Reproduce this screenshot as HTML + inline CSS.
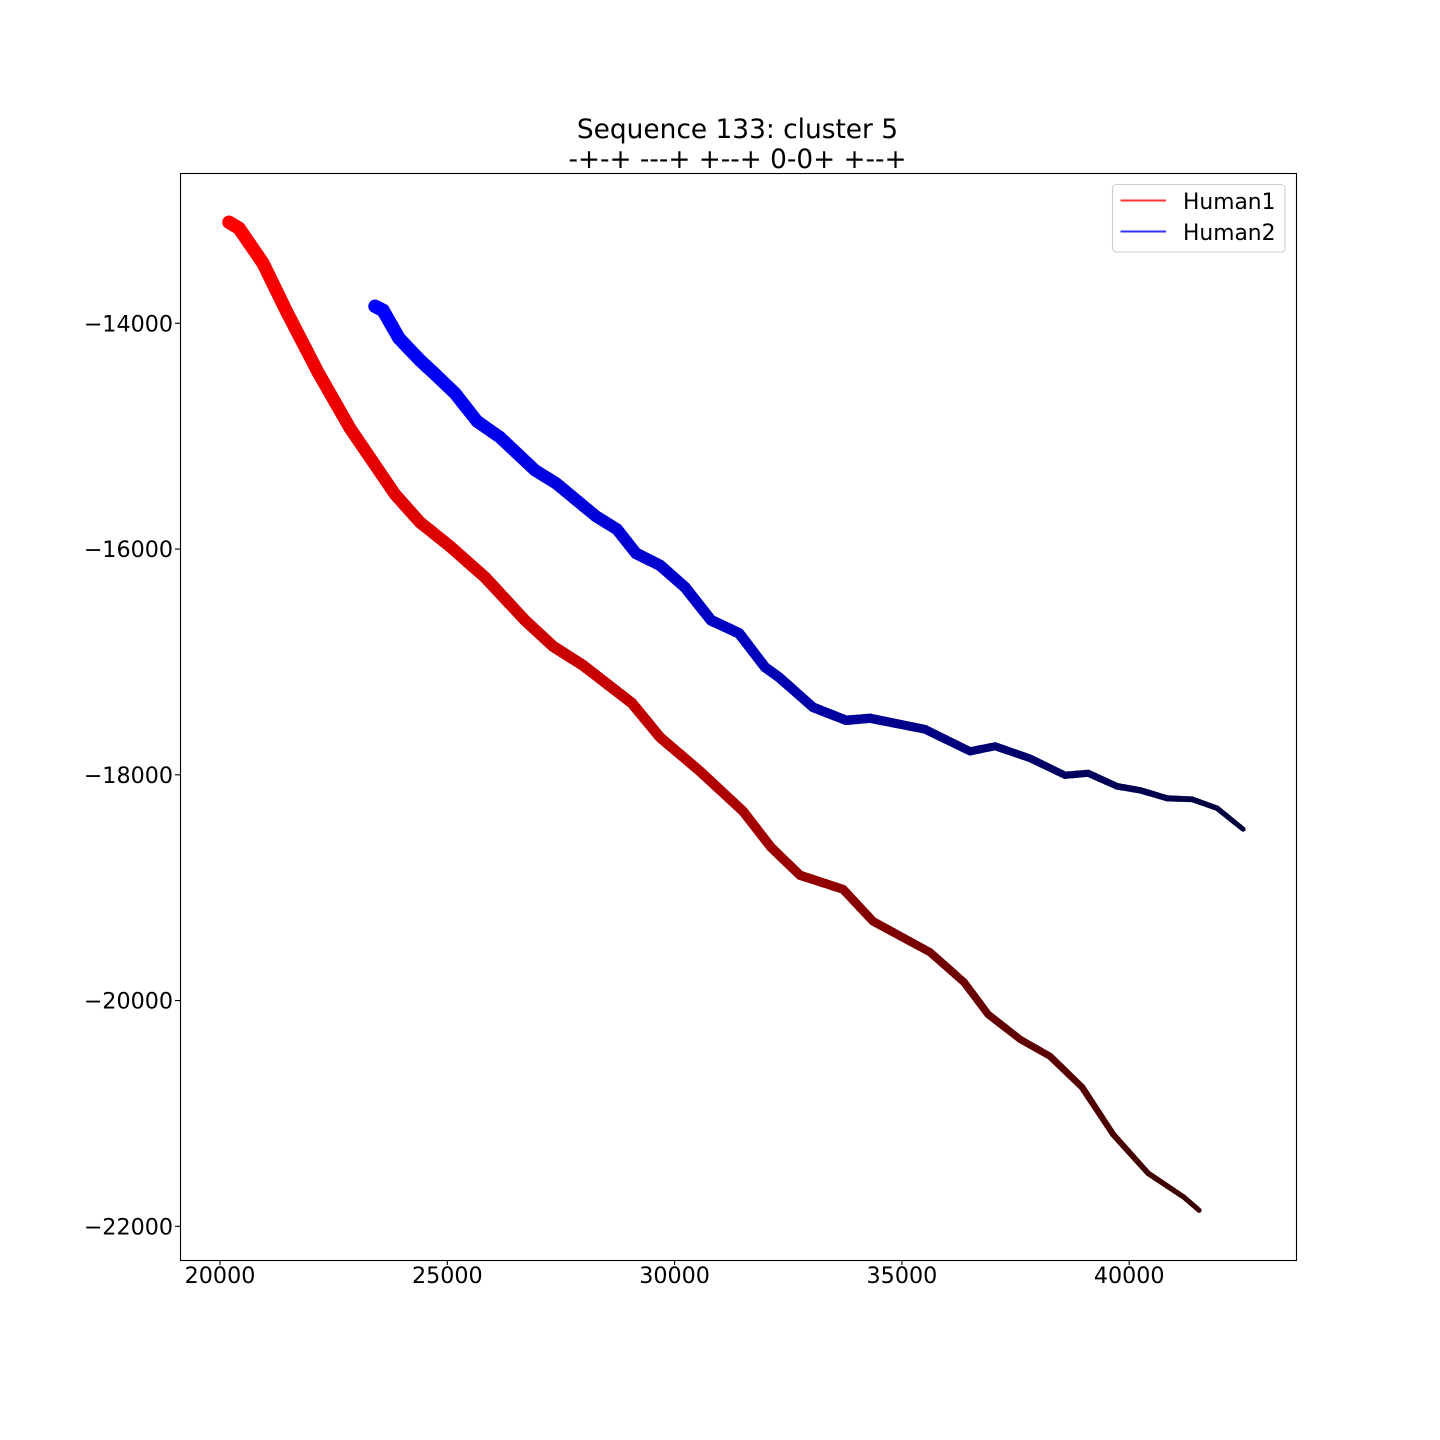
<!DOCTYPE html>
<html lang="en">
<head>
<meta charset="utf-8">
<title>Sequence 133: cluster 5</title>
<style>
html,body{margin:0;padding:0;background:#fff;width:1440px;height:1440px;overflow:hidden}
svg{display:block}
text{font-family:"DejaVu Sans","Liberation Sans",sans-serif;fill:#000}
</style>
</head>
<body>
<svg id="chart" width="1440" height="1440" viewBox="0 0 1440 1440" xmlns="http://www.w3.org/2000/svg">
  <rect x="0" y="0" width="1440" height="1440" fill="#fff"/>
  <text x="737.5" y="138" font-size="26.4" text-anchor="middle">Sequence 133: cluster 5</text>
  <text x="737.5" y="168" font-size="26.3" text-anchor="middle">-+-+ ---+ +--+ 0-0+ +--+</text>
  <g id="marks"></g>
  <g id="axes"></g>
  <rect x="180.5" y="173.5" width="1116" height="1087" fill="none" stroke="#000" stroke-width="1.1"/>
  <g>
    <rect x="1112.5" y="184.5" width="172.5" height="67.5" rx="4" fill="#fff" fill-opacity="0.8" stroke="#ccc" stroke-width="1.1"/>
    <line x1="1120.5" y1="200.5" x2="1166" y2="200.5" stroke="#ff0000" stroke-opacity="0.8" stroke-width="2"/>
    <text x="1183" y="209" font-size="21.8">Human1</text>
    <line x1="1120.5" y1="231.5" x2="1166" y2="231.5" stroke="#0000ff" stroke-opacity="0.8" stroke-width="2"/>
    <text x="1183" y="240" font-size="21.8">Human2</text>
  </g>
</svg>
<script>
const human1X = [20198,20418,20946,21474,22156,22860,23850,24400,25060,25830,26710,27326,27986,29064,29680,30560,31506,32122,32760,33706,34366,35620,36368,36896,37600,38260,38964,39646,40416,41208,41538];
const human1Y = [-13105,-13158,-13468,-13903,-14434,-14930,-15515,-15763,-15976,-16250,-16631,-16861,-17030,-17366,-17668,-17969,-18323,-18642,-18890,-19014,-19298,-19572,-19838,-20122,-20343,-20494,-20768,-21185,-21530,-21743,-21858];
const human2X = [23410,23586,23938,24400,24686,25170,25654,26160,26930,27392,28272,28734,29152,29680,30230,30802,31418,31990,32298,33046,33772,34300,35510,36500,37050,37820,38590,39096,39734,40240,40834,41384,41934,42506];
const human2Y = [-13849,-13885,-14133,-14328,-14434,-14620,-14868,-15010,-15302,-15417,-15710,-15825,-16038,-16144,-16339,-16631,-16746,-17047,-17136,-17402,-17517,-17499,-17597,-17792,-17747,-17854,-18004,-17986,-18102,-18137,-18208,-18217,-18296,-18482];
const xTicks = [20000,25000,30000,35000,40000];
const yTicks = [-14000,-16000,-18000,-20000,-22000];

const NS = 'http://www.w3.org/2000/svg';
function sx(v){ return 220 + (v - 20000) * 0.04546; }
function sy(v){ return 323.3 + (-14000 - v) * 0.11288; }

const marks = document.getElementById('marks');
const axes = document.getElementById('axes');

function ramp(stops, t){
  for (let i = 1; i < stops.length; i++) {
    if (t <= stops[i][0]) {
      const f = (t - stops[i-1][0]) / (stops[i][0] - stops[i-1][0]);
      return stops[i-1][1] + f * (stops[i][1] - stops[i-1][1]);
    }
  }
  return stops[stops.length - 1][1];
}
function shade(t){
  return Math.round(ramp([[0,255],[0.2,230],[0.5,188],[0.75,112],[1,56]], t));
}
function thickness(t){
  return ramp([[0,13.5],[0.3,12],[0.6,9.5],[0.85,7],[1,5]], t);
}

function drawSeries(xs, ys, colorFn, name){
  const g = document.createElementNS(NS, 'g');
  
  
  const px = xs.map(sx), py = ys.map(sy);
  let total = 0;
  for (let i = 1; i < px.length; i++) total += Math.hypot(px[i]-px[i-1], py[i]-py[i-1]);
  let run = 0;
  for (let i = 1; i < px.length; i++) {
    const len = Math.hypot(px[i]-px[i-1], py[i]-py[i-1]);
    const n = Math.max(1, Math.ceil(len / 4));
    for (let k = 0; k < n; k++) {
      const a = k / n, b = (k + 1) / n;
      const t = (run + len * (a + b) / 2) / total;
      const seg = document.createElementNS(NS, 'line');
      
      
      seg.setAttribute('x1', px[i-1] + (px[i]-px[i-1]) * a);
      seg.setAttribute('y1', py[i-1] + (py[i]-py[i-1]) * a);
      seg.setAttribute('x2', px[i-1] + (px[i]-px[i-1]) * b);
      seg.setAttribute('y2', py[i-1] + (py[i]-py[i-1]) * b);
      seg.setAttribute('stroke', colorFn(shade(t)));
      seg.setAttribute('stroke-width', thickness(t));
      seg.setAttribute('stroke-linecap', 'round');
      g.appendChild(seg);
    }
    run += len;
  }
  marks.appendChild(g);
}
drawSeries(human1X, human1Y, v => 'rgb(' + v + ',0,0)', 'human1-path');
drawSeries(human2X, human2Y, v => 'rgb(0,0,' + v + ')', 'human2-path');

xTicks.forEach(function(v){
  const x = sx(v);
  const tick = document.createElementNS(NS, 'line');
  
  
  tick.setAttribute('x1', x); tick.setAttribute('x2', x);
  tick.setAttribute('y1', 1260); tick.setAttribute('y2', 1265);
  tick.setAttribute('stroke', '#000'); tick.setAttribute('stroke-width', 1.1);
  axes.appendChild(tick);
  const label = document.createElementNS(NS, 'text');
  
  
  label.setAttribute('x', x); label.setAttribute('y', 1283);
  label.setAttribute('font-size', 22.22);
  label.setAttribute('text-anchor', 'middle');
  label.textContent = String(v);
  axes.appendChild(label);
});
yTicks.forEach(function(v){
  const y = sy(v);
  const tick = document.createElementNS(NS, 'line');
  
  
  tick.setAttribute('x1', 175); tick.setAttribute('x2', 180);
  tick.setAttribute('y1', y); tick.setAttribute('y2', y);
  tick.setAttribute('stroke', '#000'); tick.setAttribute('stroke-width', 1.1);
  axes.appendChild(tick);
  const label = document.createElementNS(NS, 'text');
  
  
  label.setAttribute('x', 173); label.setAttribute('y', y + 8);
  label.setAttribute('font-size', 22.22);
  label.setAttribute('text-anchor', 'end');
  label.textContent = '\u2212' + String(Math.abs(v));
  axes.appendChild(label);
});
</script>
</body>
</html>
